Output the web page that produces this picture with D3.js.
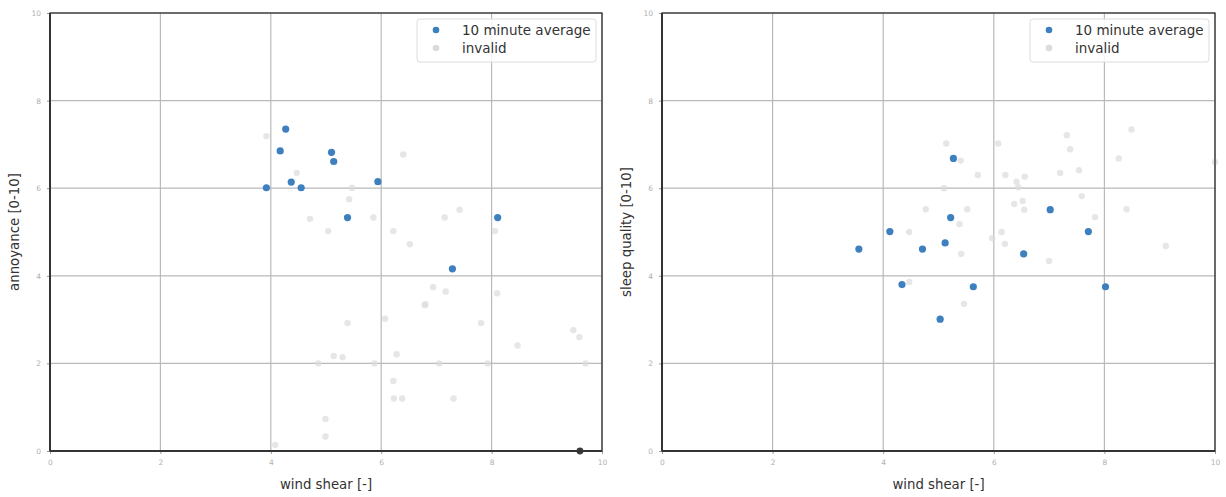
<!DOCTYPE html>
<html>
<head>
<meta charset="utf-8">
<script src="https://cdn.jsdelivr.net/npm/d3@7"></script>
<style>
  body { margin: 0; background: #fff; }
  svg { display: block; font-family: "DejaVu Sans", sans-serif; }
</style>
</head>
<body>
<svg id="chart"></svg>
<script>
// ---- data ----
const xTicks = [0, 2, 4, 6, 8, 10];
const yTicks = [0, 2, 4, 6, 8, 10];
const legendLabels = ['10 minute average', 'invalid'];

// annoyance vs wind shear
const annoyValid = [
    [3.92, 6.01], [4.17, 6.85], [4.27, 7.35], [4.37, 6.14], [4.55, 6.01],
    [5.10, 6.82], [5.14, 6.61], [5.39, 5.33], [5.94, 6.15], [8.11, 5.33],
    [7.29, 4.16]
];
const annoyInvalid = [
    [3.92, 7.19], [4.47, 6.35], [4.71, 5.30], [6.40, 6.77], [5.47, 6.01],
    [5.42, 5.75], [5.04, 5.02], [5.86, 5.33], [6.22, 5.02], [6.52, 4.72],
    [7.15, 5.33], [7.42, 5.51], [8.06, 5.02], [6.94, 3.74], [7.17, 3.64],
    [8.10, 3.60], [6.79, 3.33], [6.80, 3.35], [5.39, 2.92], [6.07, 3.02],
    [7.81, 2.92], [9.48, 2.76], [9.59, 2.60], [8.47, 2.41], [6.28, 2.21],
    [5.14, 2.17], [5.30, 2.14], [4.86, 2.00], [5.88, 2.00], [7.05, 2.00],
    [7.93, 2.00], [9.70, 2.00], [6.22, 1.60], [6.23, 1.20], [6.38, 1.20],
    [7.31, 1.20], [4.99, 0.73], [4.99, 0.33], [4.08, 0.14]
];
const annoyOther = [[9.60, 0.0]];

// sleep quality vs wind shear
const sleepValid = [
    [3.56, 4.61], [4.12, 5.01], [4.34, 3.80], [4.71, 4.61], [5.03, 3.01],
    [5.12, 4.75], [5.22, 5.33], [5.27, 6.68], [5.63, 3.75], [6.54, 4.50],
    [7.02, 5.51], [7.71, 5.01], [8.02, 3.75]
];
const sleepInvalid = [
    [5.14, 7.02], [5.40, 6.63], [5.71, 6.30], [5.10, 6.00], [6.08, 7.02],
    [6.21, 6.30], [6.41, 6.15], [6.44, 6.02], [6.56, 6.26], [4.77, 5.52],
    [5.52, 5.52], [6.37, 5.64], [6.52, 5.71], [6.55, 5.51], [5.38, 5.18],
    [7.32, 7.21], [7.38, 6.89], [8.49, 7.34], [8.26, 6.68], [7.20, 6.35],
    [7.54, 6.41], [7.59, 5.82], [8.40, 5.52], [7.83, 5.34], [10.0, 6.60],
    [4.47, 5.00], [5.41, 4.50], [5.97, 4.86], [6.14, 5.00], [6.20, 4.73],
    [4.47, 3.86], [5.46, 3.36], [7.00, 4.34], [9.11, 4.68]
];

const width = 1226, height = 497;
const svg = d3.select('#chart').attr('width', width).attr('height', height);

const blue = '#3d7fbf';
const grey = '#dcdcdc';

function drawPanel(left, right, yLabel, valid, invalid, other) {
    const top = 13, bottom = 451;
    const xScale = d3.scaleLinear().domain([0, 10]).range([left, right]);
    const yScale = d3.scaleLinear().domain([0, 10]).range([bottom, top]);

    const g = svg.append('g');

    // grid
    g.selectAll('.vgrid').data(xTicks).enter().append('line')
        .attr('x1', d => xScale(d)).attr('x2', d => xScale(d))
        .attr('y1', top).attr('y2', bottom)
        .attr('stroke', '#b9b9b9').attr('stroke-width', 1.2);
    g.selectAll('.hgrid').data(yTicks).enter().append('line')
        .attr('x1', left).attr('x2', right)
        .attr('y1', d => yScale(d)).attr('y2', d => yScale(d))
        .attr('stroke', '#b9b9b9').attr('stroke-width', 1.2);

    // axes
    const xAxis = d3.axisBottom(xScale).tickValues(xTicks).tickSize(3).tickPadding(6);
    const yAxis = d3.axisLeft(yScale).tickValues(yTicks).tickSize(3).tickPadding(6);
    const gx = g.append('g').attr('transform', 'translate(0,' + bottom + ')').call(xAxis);
    const gy = g.append('g').attr('transform', 'translate(' + left + ',0)').call(yAxis);
    [gx, gy].forEach(a => {
        a.select('.domain').remove();
        a.selectAll('.tick line').attr('stroke', '#999');
        a.selectAll('.tick text').attr('fill', '#b0b0b0').attr('font-size', 7.5)
            .attr('font-family', '"DejaVu Sans", sans-serif');
    });

    // points
    g.selectAll('.inv').data(invalid).enter().append('circle')
        .attr('cx', d => xScale(d[0])).attr('cy', d => yScale(d[1]))
        .attr('r', 3.2).attr('fill', grey).attr('fill-opacity', 0.7);
    g.selectAll('.val').data(valid).enter().append('circle')
        .attr('cx', d => xScale(d[0])).attr('cy', d => yScale(d[1]))
        .attr('r', 3.6).attr('fill', blue);
    g.selectAll('.oth').data(other).enter().append('circle')
        .attr('cx', d => xScale(d[0])).attr('cy', d => yScale(d[1]))
        .attr('r', 3.4).attr('fill', '#3a3a3a');

    // spines
    g.append('rect').attr('x', left).attr('y', top)
        .attr('width', right - left).attr('height', bottom - top)
        .attr('fill', 'none').attr('stroke', '#222').attr('stroke-width', 1.2);
    g.append('line').attr('x1', left).attr('x2', left).attr('y1', top).attr('y2', bottom)
        .attr('stroke', '#333').attr('stroke-width', 2);
    g.append('line').attr('x1', left).attr('x2', right).attr('y1', bottom).attr('y2', bottom)
        .attr('stroke', '#333').attr('stroke-width', 2);

    // axis labels
    g.append('text').text('wind shear [-]')
        .attr('x', (left + right) / 2).attr('y', 489)
        .attr('text-anchor', 'middle').attr('font-size', 13.3).attr('fill', '#333');
    g.append('text').text(yLabel)
        .attr('transform', 'translate(' + (left - 31) + ',' + ((top + bottom) / 2) + ') rotate(-90)')
        .attr('text-anchor', 'middle').attr('font-size', 13.3).attr('fill', '#333');

    // legend
    const lx = right - 185, ly = 19;
    const leg = g.append('g');
    leg.append('rect').attr('x', lx).attr('y', ly).attr('width', 179).attr('height', 43)
        .attr('rx', 3).attr('fill', '#fff').attr('fill-opacity', 0.85)
        .attr('stroke', '#dcdcdc').attr('stroke-width', 1);
    const legColors = [blue, grey];
    legendLabels.forEach((lab, i) => {
        leg.append('circle').attr('cx', lx + 19).attr('cy', ly + 11 + i * 18)
            .attr('r', 3.3).attr('fill', legColors[i]);
        leg.append('text').text(lab).attr('x', lx + 45).attr('y', ly + 15.5 + i * 18)
            .attr('font-size', 13.5).attr('fill', '#333');
    });
}

drawPanel(50, 602, 'annoyance [0-10]', annoyValid, annoyInvalid, annoyOther);
drawPanel(662, 1215, 'sleep quality [0-10]', sleepValid, sleepInvalid, []);
</script>
</body>
</html>
